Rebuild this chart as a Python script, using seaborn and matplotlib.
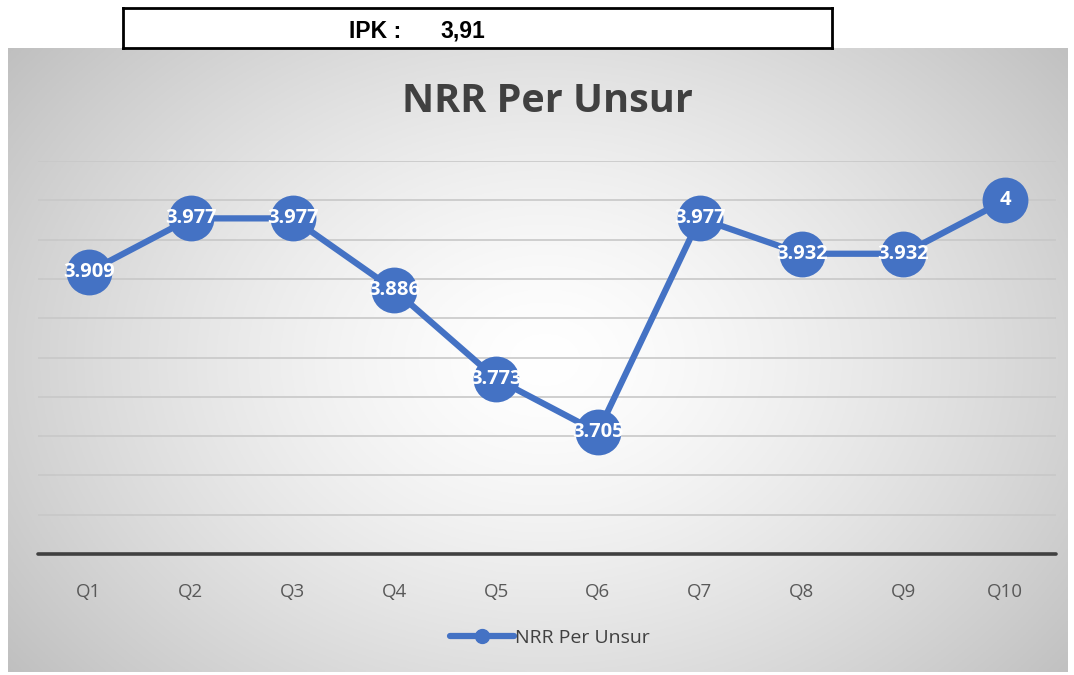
import numpy as np
import matplotlib
matplotlib.use("Agg")
import matplotlib.pyplot as plt
import seaborn as sns
import pandas as pd
from matplotlib.lines import Line2D

categories = ["Q1", "Q2", "Q3", "Q4", "Q5", "Q6", "Q7", "Q8", "Q9", "Q10"]
values = [3.909, 3.977, 3.977, 3.886, 3.773, 3.705, 3.977, 3.932, 3.932, 4.0]
labels = ["3.909", "3.977", "3.977", "3.886", "3.773", "3.705", "3.977", "3.932", "3.932", "4"]
series_name = "NRR Per Unsur"
title = "NRR Per Unsur"
ipk_label = "IPK :"
ipk_value = "3,91"

sns.set_theme(style="white")
plt.rcParams['font.family'] = ['Open Sans', 'DejaVu Sans']

W, H = 1074, 675
fig = plt.figure(figsize=(W / 100, H / 100), dpi=100)
fig.patch.set_facecolor("white")

def fx(px):
    return px / W

def fy(py):
    return 1 - py / H

# gradient background panel
bx0, bx1, by0, by1 = 8, 1068, 48, 672
bg = fig.add_axes([fx(bx0), fy(by1), fx(bx1 - bx0), (by1 - by0) / H])
gx = np.linspace(bx0, bx1, 400)
gy = np.linspace(by0, by1, 250)
X, Y = np.meshgrid(gx, gy)
cx, cy = 545, 360
r = np.sqrt(((X - cx) / 560) ** 2 + ((Y - cy) / 420) ** 2)
val = 1.0 - 0.19 * np.clip(r, 0, 1.4) ** 1.4
img = np.dstack([val, val, val])
bg.imshow(img, extent=[0, 1, 0, 1], aspect="auto", origin="upper")
bg.set_axis_off()

# IPK box
box = fig.add_axes([fx(123), fy(48), fx(832 - 123), 40 / H])
box.set_xticks([]); box.set_yticks([])
box.set_facecolor("white")
for s in box.spines.values():
    s.set_color("black"); s.set_linewidth(2)
fig.text(fx(349), fy(31), ipk_label, family="Liberation Sans", fontweight="bold",
         fontsize=16.5, color="black", va="center", ha="left")
fig.text(fx(440), fy(31), ipk_value, family="Liberation Sans", fontweight="bold",
         fontsize=16.5, color="black", va="center", ha="left")

# main axes
ax = fig.add_axes([fx(38), fy(554), fx(1056 - 38), (554 - 161) / H])
ax.patch.set_alpha(0)
df = pd.DataFrame({"Quarter": categories, "Value": values})
color = "#4472C4"
sns.lineplot(data=df, x="Quarter", y="Value", ax=ax, color=color, linewidth=4.5,
             marker="o", markersize=33, markeredgewidth=0,
             sort=False, zorder=3, legend=False)
ax.set_xlim(-0.5, len(categories) - 0.5)
ax.set_ylim(3.55, 4.05)
ax.set_yticks(np.arange(3.55, 4.0501, 0.05))
ax.yaxis.grid(True, color="#c8c8c8", linewidth=1.2)
ax.xaxis.grid(False)
ax.set_yticklabels([])
ax.tick_params(axis="y", length=0)
ax.tick_params(axis="x", length=0, labelsize=13.5, labelcolor="#595959", pad=21)
for s in ax.spines.values():
    s.set_visible(False)
ax.axhline(3.55, color="#404040", linewidth=2.6, zorder=2, clip_on=False)
ax.set_xlabel("")
ax.set_ylabel("")

for i, (v, lab) in enumerate(zip(values, labels)):
    ax.text(i, v, lab, ha="center", va="center", color="white", fontsize=14.5,
            fontweight="bold", zorder=5)

fig.text(fx(547), fy(101), title, ha="center", va="center", fontsize=28.5,
         fontweight="bold", color="#404040")

# legend
handle = Line2D([0], [0], color=color, linewidth=4.5, marker="o", markersize=10)
fig.legend([handle], [series_name], loc="center", bbox_to_anchor=(fx(550), fy(638)),
           frameon=False, fontsize=14, handlelength=3.3, handletextpad=0.05,
           labelcolor="#404040")

fig.savefig("out.png", dpi=100)
